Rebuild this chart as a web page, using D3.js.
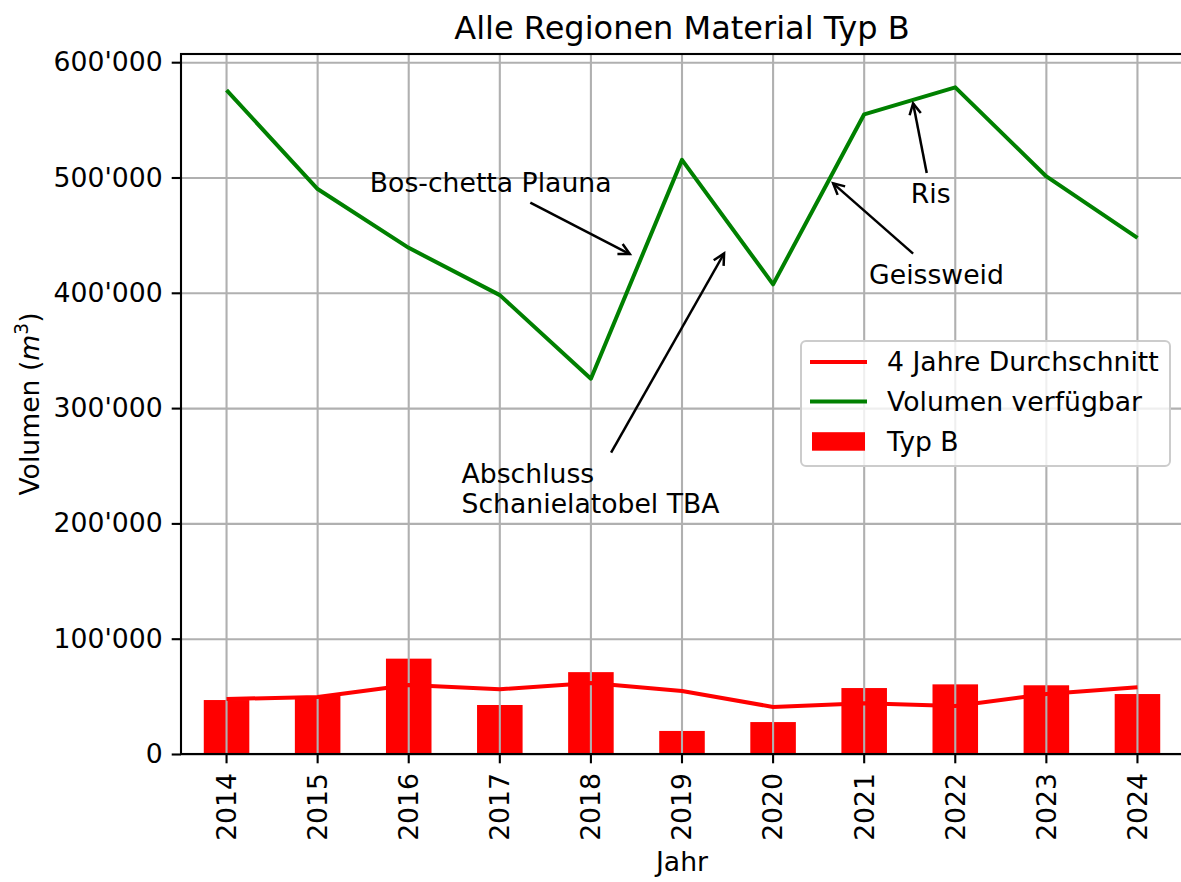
<!DOCTYPE html>
<html>
<head>
<meta charset="utf-8">
<script src="https://cdn.jsdelivr.net/npm/d3@7"></script>
<style>
  body { margin: 0; background: #fff; }
  svg { display: block; overflow: hidden; font-family: "DejaVu Sans", sans-serif; }
  .grid line { stroke: #b0b0b0; stroke-width: 2.1px; }
  .grid path { display: none; }
</style>
</head>
<body>
<div id="chart"></div>
<script>
// data
var years = ["2014", "2015", "2016", "2017", "2018", "2019", "2020", "2021", "2022", "2023", "2024"];
var typB = [46800, 50300, 82700, 42500, 71000, 20000, 27700, 57200, 60400, 59600, 52000];
var avg4 = [47700, 49400, 59800, 56100, 61600, 54600, 40800, 44000, 41600, 52000, 57800];
var verfuegbar = [575700, 490000, 439000, 398000, 325500, 515300, 407300, 554800, 578200, 500900, 447700];
var yTicks = [0, 100000, 200000, 300000, 400000, 500000, 600000];
var legendLabels = ["4 Jahre Durchschnitt", "Volumen verfügbar", "Typ B"];

// annotations: text position and arrow tip, in (year index, value)
var annoText = [["Bos-chetta Plauna"], ["Abschluss", "Schanielatobel TBA"], ["Geissweid"], ["Ris"]];
var annoTextAt = [[1.573, 487800], [2.58, 235300], [7.054, 408000], [7.512, 477900]];
var annoTipAt = [[4.427, 433600], [5.462, 434100], [6.659, 494900], [7.537, 564300]];

var margin = { top: 54, right: -2, bottom: 128, left: 181 },
  width = 1181 - margin.left - margin.right,
  height = 882 - margin.top - margin.bottom;

var fs = 26.67;

var svg = d3
  .select("#chart")
  .append("svg")
  .attr("width", 1181)
  .attr("height", 882);

var g = svg.append("g").attr("transform", "translate(" + margin.left + "," + margin.top + ")");

// scales
var x = d3.scaleBand().domain(years).range([0, width]).padding(0);
var xi = d3.scaleLinear().domain([-0.5, years.length - 0.5]).range([0, width]);
var y = d3.scaleLinear().domain([0, d3.max(verfuegbar) * 1.05]).range([height, 0]);

var fmt = function (d) {
  return d3.format(",")(d).replace(/,/g, "'");
};

// bars
g.selectAll(".bar")
  .data(typB)
  .enter()
  .append("rect")
  .attr("class", "bar")
  .attr("x", function (d, i) { return x(years[i]) + x.bandwidth() * 0.25; })
  .attr("width", x.bandwidth() * 0.5)
  .attr("y", function (d) { return y(d); })
  .attr("height", function (d) { return y(0) - y(d); })
  .attr("fill", "#ff0000");

// grid
g.append("g")
  .attr("class", "grid")
  .attr("transform", "translate(0," + height + ")")
  .call(d3.axisBottom(x).tickSize(-height).tickFormat(""));
g.append("g")
  .attr("class", "grid")
  .call(d3.axisLeft(y).tickValues(yTicks).tickSize(-width).tickFormat(""));

// lines
var line = function (arr) {
  return d3.line()
    .x(function (d, i) { return xi(i); })
    .y(function (d) { return y(d); })(arr);
};
g.append("path").attr("d", line(avg4)).attr("fill", "none")
  .attr("stroke", "#ff0000").attr("stroke-width", 4).attr("stroke-linejoin", "round");
g.append("path").attr("d", line(verfuegbar)).attr("fill", "none")
  .attr("stroke", "#008000").attr("stroke-width", 4).attr("stroke-linejoin", "round");

// axes
var xAxis = g.append("g")
  .attr("transform", "translate(0," + height + ")")
  .call(d3.axisBottom(x).tickSize(9.3).tickPadding(9));
xAxis.select(".domain").remove();
xAxis.selectAll(".tick line").attr("stroke", "#000").attr("stroke-width", 2.1);
xAxis.selectAll(".tick text")
  .attr("font-size", fs)
  .attr("font-family", "DejaVu Sans")
  .attr("fill", "#000")
  .attr("transform", "rotate(-90)")
  .attr("text-anchor", "end")
  .attr("x", -19)
  .attr("y", 0)
  .attr("dy", "0.35em");

var yAxis = g.append("g")
  .call(d3.axisLeft(y).tickValues(yTicks).tickFormat(fmt).tickSize(9.3).tickPadding(9));
yAxis.select(".domain").remove();
yAxis.selectAll(".tick line").attr("stroke", "#000").attr("stroke-width", 2.1);
yAxis.selectAll(".tick text")
  .attr("font-size", fs)
  .attr("font-family", "DejaVu Sans")
  .attr("fill", "#000");

// spines
g.append("rect")
  .attr("x", 0).attr("y", 0)
  .attr("width", width).attr("height", height)
  .attr("fill", "none").attr("stroke", "#000").attr("stroke-width", 2.1);

// annotations
annoText.forEach(function (lines, k) {
  var t = g.append("text")
    .attr("font-size", fs)
    .attr("fill", "#000")
    .attr("x", xi(annoTextAt[k][0]))
    .attr("y", y(annoTextAt[k][1]));
  lines.forEach(function (s, j) {
    t.append("tspan")
      .attr("x", xi(annoTextAt[k][0]))
      .attr("dy", j === 0 ? 0 : 30)
      .text(s);
  });
  var bb = t.node().getBBox();
  var cx = bb.x + bb.width / 2, cy = bb.y + bb.height / 2;
  var tx = xi(annoTipAt[k][0]), ty = y(annoTipAt[k][1]);
  var dx = tx - cx, dy = ty - cy;
  // clip start point at the text box (plus a little pad)
  var pad = 5;
  var hw = bb.width / 2 + pad, hh = bb.height / 2 + pad;
  var s = Math.min(dx !== 0 ? hw / Math.abs(dx) : Infinity, dy !== 0 ? hh / Math.abs(dy) : Infinity);
  var sx = cx + dx * s, sy = cy + dy * s;
  var len = Math.sqrt(dx * dx + dy * dy), ux = dx / len, uy = dy / len;
  var hl = 11, hwid = 5.7;
  g.append("path")
    .attr("d", "M" + sx + "," + sy + "L" + tx + "," + ty)
    .attr("stroke", "#000").attr("stroke-width", 2.5).attr("fill", "none");
  g.append("path")
    .attr("d",
      "M" + (tx - ux * hl - uy * hwid) + "," + (ty - uy * hl + ux * hwid) +
      "L" + tx + "," + ty +
      "L" + (tx - ux * hl + uy * hwid) + "," + (ty - uy * hl - ux * hwid))
    .attr("stroke", "#000").attr("stroke-width", 2.5).attr("fill", "none")
    .attr("stroke-linejoin", "miter");
});

// legend
var leg = svg.append("g").attr("transform", "translate(801,341)");
leg.append("rect")
  .attr("width", 369).attr("height", 125)
  .attr("rx", 5).attr("ry", 5)
  .attr("fill", "#fff").attr("fill-opacity", 0.8)
  .attr("stroke", "#cccccc").attr("stroke-width", 2);
var legColors = ["#ff0000", "#008000", "#ff0000"];
legendLabels.forEach(function (lab, i) {
  var cy = 21 + i * 39.6;
  if (i < 2) {
    leg.append("line")
      .attr("x1", 9).attr("x2", 66).attr("y1", cy).attr("y2", cy)
      .attr("stroke", legColors[i]).attr("stroke-width", 4);
  } else {
    leg.append("rect")
      .attr("x", 11).attr("y", cy - 9).attr("width", 53).attr("height", 18.5)
      .attr("fill", legColors[i]);
  }
  leg.append("text")
    .attr("x", 86).attr("y", cy).attr("dy", "0.35em")
    .attr("font-size", fs).attr("fill", "#000")
    .text(lab);
});

// title and axis labels
svg.append("text")
  .attr("x", margin.left + width / 2).attr("y", 39)
  .attr("text-anchor", "middle").attr("font-size", 32).attr("fill", "#000")
  .text("Alle Regionen Material Typ B");

svg.append("text")
  .attr("x", margin.left + width / 2).attr("y", 871)
  .attr("text-anchor", "middle").attr("font-size", fs).attr("fill", "#000")
  .text("Jahr");

var yl = svg.append("text")
  .attr("transform", "translate(39," + (margin.top + height / 2) + ") rotate(-90)")
  .attr("text-anchor", "middle").attr("font-size", fs).attr("fill", "#000");
yl.append("tspan").text("Volumen (");
yl.append("tspan").attr("font-style", "italic").text("m");
yl.append("tspan").attr("font-size", fs * 0.7).attr("dy", -fs * 0.42).text("3");
yl.append("tspan").attr("dy", fs * 0.42).text(")");
</script>
</body>
</html>
